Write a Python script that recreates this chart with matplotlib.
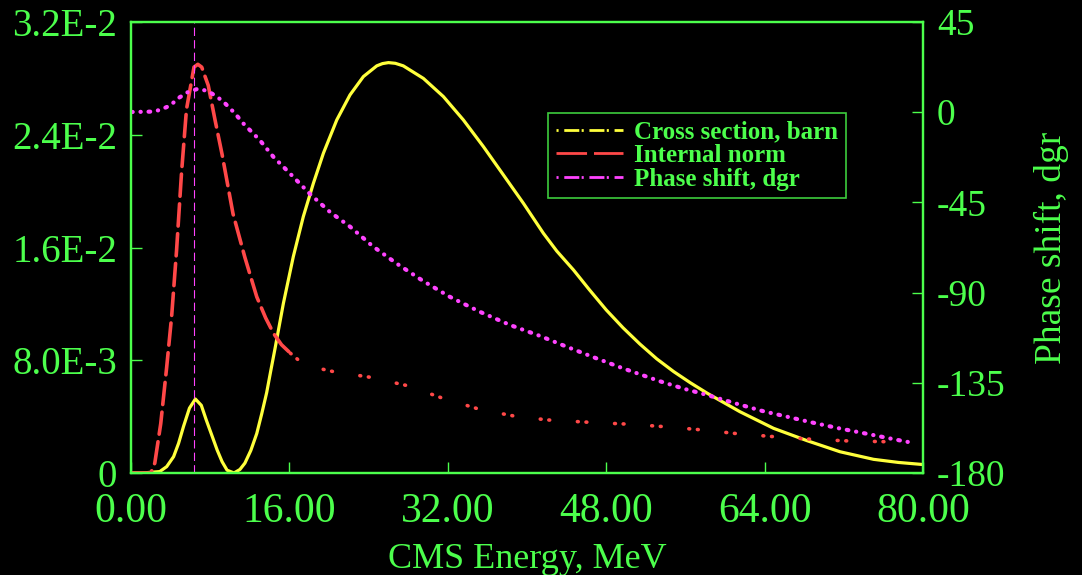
import matplotlib.pyplot as plt
from matplotlib.lines import Line2D
import numpy as np

# cross section (left axis, units of 1e-3 barn)
energy_xs = [0, 1.5, 2.9, 3.6, 4.3, 4.8, 5.3, 5.9, 6.5, 7.1, 7.6, 8.2, 8.7, 9.2, 9.7,
             10.4, 11.0, 11.5, 12.1, 12.7, 13.2, 13.7, 14.1, 14.55, 15.39, 16.39, 17.4,
             18.42, 19.43, 20.78, 22.12, 23.47, 24.82, 25.4, 26.0, 26.7, 27.5, 29.53, 31.55,
             33.57, 35.59, 37.61, 39.63, 41.65, 43.0, 44.7, 46.3, 48.0, 49.7, 51.4, 53.1,
             54.8, 56.5, 58.2, 61.5, 64.9, 68.3, 71.6, 75.0, 77.5, 80.0]
cross_section = [0, 0.02, 0.1, 0.45, 1.16, 2.1, 3.3, 4.6, 5.25, 4.8, 3.76, 2.6, 1.63, 0.8, 0.2,
                 0, 0.25, 0.7, 1.6, 2.8, 4.2, 5.7, 7.2, 8.85, 12.04, 15.35, 18.19,
                 20.56, 22.69, 25.05, 26.83, 28.13, 28.89, 29.05, 29.12, 29.07, 28.89, 28.0, 26.71,
                 25.05, 23.16, 21.15, 19.14, 17.01, 15.75, 14.4, 13.0, 11.57, 10.3, 9.15, 8.1,
                 7.2, 6.4, 5.66, 4.35, 3.17, 2.29, 1.51, 0.97, 0.75, 0.6]

# internal norm (left axis, units of 1e-3)
energy_norm = [0, 2.0, 2.4, 3.0, 3.6, 4.1, 4.6, 5.1, 5.6, 6.36, 6.75, 7.14, 7.8, 8.5, 9.2,
               10.3, 11.5, 12.7, 13.6, 14.4, 15.2, 16.1, 17.1, 18.5, 20.4, 24.1, 27.9,
               31.5, 35.3, 39.0, 42.2, 47.0, 50.4, 53.8, 57.8, 61.5, 64.9, 68.8, 72.6,
               76.3, 77.5]
internal_norm = [0, 0, 0.7, 3.5, 7.5, 11.1, 15.8, 21.3, 25.8, 28.8, 29.0, 28.8, 27.5, 25.0, 22.6,
                 18.4, 15.3, 12.5, 11.0, 9.9, 9.1, 8.5, 7.9, 7.5, 7.2, 6.8, 6.2,
                 5.3, 4.5, 4.0, 3.76, 3.57, 3.46, 3.29, 3.05, 2.77, 2.58, 2.39, 2.27,
                 2.22, 2.15]

# phase shift (right axis, degrees)
energy_phase = [0, 2.1, 2.9, 3.9, 4.9, 5.8, 6.7, 7.7, 8.7, 9.5, 10.5, 11.3, 12.0, 13.0, 14.4,
                15.38, 16.2, 18.08, 20.1, 22.12, 24.4, 26.8, 29.5, 32.2, 35.2, 38.3, 41.3,
                44.0, 46.8, 49.7, 53.4, 55.8, 58.2, 61.0, 63.8, 66.6, 68.6, 71.4, 75.0,
                77.2, 79.2]
phase_shift = [0.1, 0.3, 1.1, 3.2, 7.4, 10.2, 11.6, 10.7, 7.7, 4.4, -0.6, -5.4, -8.9, -13.9, -22.4,
               -27.2, -31.3, -40.8, -49.8, -57.1, -66.8, -75.4, -84.2, -92.1, -99.5, -106.2, -111.6,
               -117.0, -122.4, -127.8, -134.2, -137.9, -141.1, -145.2, -149.1, -152.3, -154.6, -157.6, -161.1,
               -163.3, -165.2]

resonance_energy = 6.4

x_ticks = [0, 16, 32, 48, 64, 80]
x_ticklabels = ['0.00', '16.00', '32.00', '48.00', '64.00', '80.00']
left_ticks = [0, 0.008, 0.016, 0.024, 0.032]
left_ticklabels = ['0', '8.0E-3', '1.6E-2', '2.4E-2', '3.2E-2']
right_ticks = [-180, -135, -90, -45, 0, 45]
right_ticklabels = ['-180', '-135', '-90', '-45', '0', '45']

green = '#4cff4c'
yellow = '#ffff3c'
red = '#ff4848'
magenta = '#ff44ff'

plt.rcParams['font.family'] = ['Liberation Serif', 'DejaVu Serif']
plt.rcParams['lines.scale_dashes'] = False

fig = plt.figure(figsize=(10.82, 5.75), dpi=100, facecolor='black')
ax = fig.add_axes([0.1211, 0.1774, 0.7320, 0.7843])
ax.set_facecolor('black')
ax2 = ax.twinx()

xs = np.array(cross_section) * 1e-3
norm = np.array(internal_norm) * 1e-3
split = energy_norm.index(16.1)

ax.plot(energy_xs, xs, color=yellow, lw=2.3, solid_capstyle='round',
        solid_joinstyle='round')
ax.plot(energy_norm[:split + 1], norm[:split + 1], color=red, lw=2.6,
        dashes=(16, 5.5), dash_capstyle='round')
ax.plot(energy_norm[split:], norm[split:], color=red, lw=2.6,
        dashes=(0.6, 5.6, 0.6, 20), dash_capstyle='round')
ax.axvline(resonance_energy, color=magenta, lw=0.8, dashes=(6, 3))

ax2.plot(energy_phase, phase_shift, color=magenta, lw=3.0,
         dashes=(1.2, 5.6, 0.2, 5.6), dash_capstyle='round')

ax.set_xlim(0, 80)
ax.set_ylim(0, 0.032)
ax2.set_ylim(-180, 45)

ax.set_xticks(x_ticks)
ax.set_xticklabels(x_ticklabels)
ax.set_yticks(left_ticks)
ax.set_yticklabels(left_ticklabels)
ax2.set_yticks(right_ticks)
ax2.set_yticklabels(right_ticklabels)

for a in (ax, ax2):
    for s in a.spines.values():
        s.set_color(green)
        s.set_linewidth(1.6)
    a.tick_params(direction='in', length=8, width=1.0, colors=green, pad=10)
ax.tick_params(axis='x', pad=14, labelsize=30)
ax.tick_params(axis='y', labelsize=28)
ax2.tick_params(axis='y', labelsize=27)

fig.text(527 / 1082, 1 - 568 / 575, 'CMS Energy, MeV', color=green,
         fontsize=26, ha='center', va='baseline')
fig.text(1051 / 1082, 1 - 248 / 575, 'Phase shift, dgr', color=green,
         fontsize=27, ha='center', va='center', rotation=90)

handles = [
    Line2D([], [], color=yellow, lw=2, dashes=(1.5, 4.1, 10.8, 1.7)),
    Line2D([], [], color=red, lw=2, dashes=(22, 5)),
    Line2D([], [], color=magenta, lw=2, dashes=(1.5, 4.1, 10.8, 1.7)),
]
labels = ['Cross section, barn', 'Internal norm', 'Phase shift, dgr']
leg = ax2.legend(handles, labels, loc='upper left', bbox_to_anchor=(0.5265, 0.798),
                 borderaxespad=0, frameon=True, fancybox=False, facecolor='black',
                 edgecolor=green, handlelength=2.7, handletextpad=0.45,
                 borderpad=0.3, labelspacing=0.02,
                 prop={'size': 18, 'weight': 'bold'})
leg.get_frame().set_linewidth(1.2)
for t in leg.get_texts():
    t.set_color(green)

fig.savefig('out.png', dpi=100, facecolor='black')
